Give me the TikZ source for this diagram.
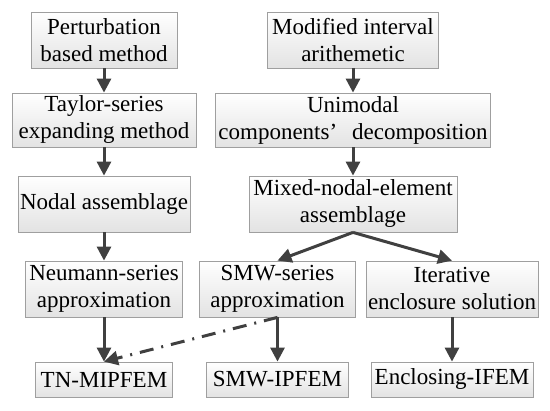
\documentclass[tikz,border=0pt]{standalone}
\usepackage{fontspec}
\setmainfont{Liberation Serif}
\newfontfamily\boxfont{Liberation Serif}
\usetikzlibrary{arrows.meta}

\tikzset{
  stepbox/.style={draw=gray!75, line width=0.8pt, top color=white, bottom color=gray!22,
    align=center, inner sep=2pt, font=\boxfont\fontsize{23}{27}\selectfont},
  flow/.style={draw=black!75, line width=3pt, -{Triangle[width=14pt,length=14pt]}},
}

\begin{document}
\begin{tikzpicture}[x=1pt,y=-1pt]
  \useasboundingbox (0,0) rectangle (550,411);

  % left branch
  \node[stepbox, minimum width=146, minimum height=56] (pert) at (104,40) {Perturbation\\based method};
  \node[stepbox, minimum width=184, minimum height=54] (taylor) at (104,120) {Taylor-series\\expanding method};
  \node[stepbox, minimum width=172, minimum height=56] (nodal) at (104,204) {Nodal assemblage};
  \node[stepbox, minimum width=157, minimum height=56] (neumann) at (104,289) {Neumann-series\\approximation};
  \node[stepbox, minimum width=137, minimum height=35] (tnmip) at (104,379.5) {TN-MIPFEM};

  % right branch
  \node[stepbox, minimum width=171, minimum height=56] (modint) at (353,40) {Modified interval\\arithemetic};
  \node[stepbox, minimum width=275, minimum height=54] (unimod) at (353,120) {Unimodal\\components’\hspace{0.4em} decomposition};
  \node[stepbox, minimum width=208, minimum height=56] (mixed) at (353,204) {Mixed-nodal-element\\assemblage};
  \node[stepbox, minimum width=156, minimum height=56] (smw) at (277.5,289) {SMW-series\\approximation};
  \node[stepbox, minimum width=172, minimum height=56] (iter) at (452,289) {Iterative\\enclosure solution};
  \node[stepbox, minimum width=142, minimum height=35] (smwip) at (277.5,379.5) {SMW-IPFEM};
  \node[stepbox, minimum width=162, minimum height=35] (encl) at (452,379.5) {Enclosing-IFEM};

  \draw[flow] (pert) -- (taylor);
  \draw[flow] (taylor) -- (nodal);
  \draw[flow] (nodal) -- (neumann);
  \draw[flow] (neumann) -- (tnmip);
  \draw[flow] (modint) -- (unimod);
  \draw[flow] (unimod) -- (mixed);
  \draw[flow] (mixed.south) -- (smw.north);
  \draw[flow] (mixed.south) -- (iter.north);
  \draw[flow] (smw) -- (smwip);
  \draw[flow] (iter) -- (encl);
  \draw[flow, dash pattern=on 14pt off 8pt on 2pt off 8pt] (smw.south) -- (tnmip.north);
\end{tikzpicture}
\end{document}
